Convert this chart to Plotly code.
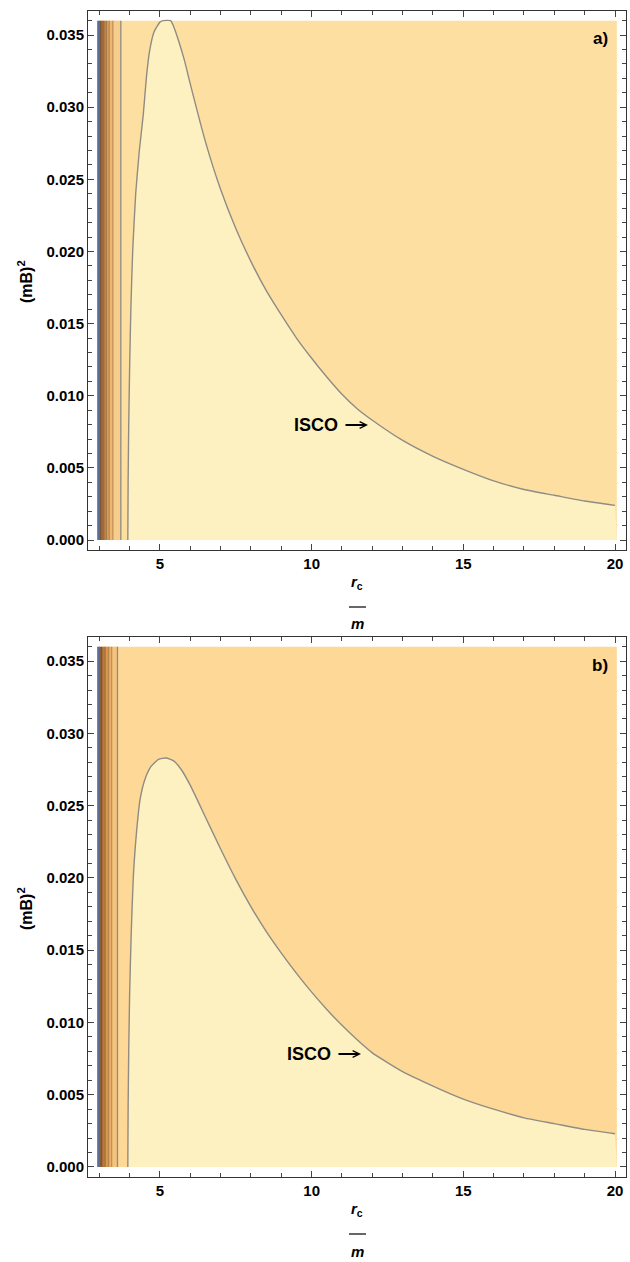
import plotly.graph_objects as go

# ---------------- data ----------------
# ISCO contour, panel a  (x = r_c/m, y = (mB)^2); clipped at top of plot
a_isco_x = [3.94, 3.95, 3.97, 4.00, 4.04, 4.10, 4.20, 4.32, 4.45, 4.55, 4.65, 4.80, 5.00, 5.10,
            5.35, 5.45, 5.60, 5.80, 6.00, 6.50, 7.00, 7.50, 8.00, 8.50, 9.00, 9.50, 10.00,
            10.50, 11.00, 11.50, 12.00, 13.00, 14.00, 15.00, 16.00, 17.00, 18.00, 19.00, 20.00]
a_isco_y = [0.0000, 0.0040, 0.0080, 0.0120, 0.0160, 0.0200, 0.0240, 0.0270, 0.0295, 0.0320,
            0.0338, 0.0352, 0.0359, 0.0360, 0.0360, 0.0356, 0.0347, 0.0333, 0.0316, 0.0276,
            0.0243, 0.0216, 0.0193, 0.0173, 0.0156, 0.0140, 0.0126, 0.0113, 0.0101, 0.0091,
            0.0083, 0.0069, 0.0058, 0.0049, 0.0041, 0.0035, 0.0031, 0.0027, 0.0024]
# ISCO contour, panel b
b_isco_x = [3.94, 3.95, 3.97, 4.00, 4.05, 4.12, 4.22, 4.35, 4.50, 4.70, 4.95, 5.20, 5.45,
            5.70, 6.00, 6.50, 7.00, 7.50, 8.00, 8.50, 9.00, 9.50, 10.00, 10.50, 11.00, 11.50,
            12.00, 13.00, 14.00, 15.00, 16.00, 17.00, 18.00, 19.00, 20.00]
b_isco_y = [0.0000, 0.0040, 0.0080, 0.0120, 0.0160, 0.0200, 0.0230, 0.0255, 0.0268, 0.0277,
            0.0282, 0.0283, 0.0281, 0.0275, 0.0264, 0.0242, 0.0220, 0.0199, 0.0180, 0.0163,
            0.0148, 0.0134, 0.0121, 0.0109, 0.0098, 0.0088, 0.0079, 0.0066, 0.0056, 0.0047,
            0.0040, 0.0034, 0.0030, 0.0026, 0.0023]

# vertical contour bands close to r_c = 3m
a_band_edges = [2.93, 3.00, 3.07, 3.15, 3.24, 3.33, 3.45, 3.71]
a_band_colors = ["#5873a8", "#7d5a3c", "#a0693a", "#c08447", "#d99f5c", "#ebb773", "#f7cd8c"]
b_band_edges = [2.93, 3.00, 3.09, 3.20, 3.31, 3.41, 3.60]
b_band_colors = ["#5873a8", "#8a5d36", "#b67a40", "#d49850", "#e8b068", "#f4c47e"]

a_outer, a_inner = "#fde0a1", "#fef1c1"
b_outer, b_inner = "#fdd897", "#fef1c1"

x_data = [2.93, 20.06]
y_data = [0.0, 0.036]

y_ticks = [0.000, 0.005, 0.010, 0.015, 0.020, 0.025, 0.030, 0.035]
x_ticks = [5, 10, 15, 20]

W, H = 630, 1262
FONT = "Liberation Sans, Arial, sans-serif"

fig = go.Figure()


def add_panel(xa, ya, isco_x, isco_y, edges, colors, outer, inner):
    x0, x1 = x_data
    y0, y1 = y_data
    fig.add_trace(go.Scatter(x=[x0, x1, x1, x0, x0], y=[y0, y0, y1, y1, y0], fill="toself",
                             fillcolor=outer, line=dict(width=0), mode="lines",
                             xaxis=xa, yaxis=ya, hoverinfo="skip", showlegend=False))
    px = list(isco_x) + [x1, isco_x[0]]
    py = list(isco_y) + [y0, y0]
    fig.add_trace(go.Scatter(x=px, y=py, fill="toself", fillcolor=inner, line=dict(width=0),
                             mode="lines", xaxis=xa, yaxis=ya, hoverinfo="skip", showlegend=False))
    for i, c in enumerate(colors):
        e0, e1 = edges[i], edges[i + 1]
        fig.add_trace(go.Scatter(x=[e0, e1, e1, e0, e0], y=[y0, y0, y1, y1, y0], fill="toself",
                                 fillcolor=c, line=dict(width=0), mode="lines",
                                 xaxis=xa, yaxis=ya, hoverinfo="skip", showlegend=False))
    for e in edges[1:-1]:
        fig.add_trace(go.Scatter(x=[e, e], y=[y0, y1], mode="lines",
                                 line=dict(color="rgba(110,70,40,0.6)", width=0.8),
                                 xaxis=xa, yaxis=ya, hoverinfo="skip", showlegend=False))
    fig.add_trace(go.Scatter(x=[edges[-1], edges[-1]], y=[y0, y1], mode="lines",
                             line=dict(color="#8f8c84", width=1.3),
                             xaxis=xa, yaxis=ya, hoverinfo="skip", showlegend=False))
    fig.add_trace(go.Scatter(x=isco_x, y=isco_y, mode="lines",
                             line=dict(color="#8f8c84", width=1.4, shape="spline", smoothing=0.5),
                             xaxis=xa, yaxis=ya, hoverinfo="skip", showlegend=False))


add_panel("x", "y", a_isco_x, a_isco_y, a_band_edges, a_band_colors, a_outer, a_inner)
add_panel("x2", "y2", b_isco_x, b_isco_y, b_band_edges, b_band_colors, b_outer, b_inner)

xrange = [2.6274, 20.3627]
yrange = [-0.000693, 0.03667]
tickfont = dict(family=FONT, size=15, color="black", weight="bold")

xcommon = dict(range=xrange, tickvals=x_ticks, ticks="inside", ticklen=6, tickwidth=1,
               tickcolor="#444", showline=True, linecolor="#333", linewidth=1, mirror="allticks",
               showgrid=False, zeroline=False, tickfont=tickfont,
               minor=dict(ticks="inside", dtick=1, tick0=0, ticklen=4, tickcolor="#444", showgrid=False))
ycommon = dict(range=yrange, tickvals=y_ticks, tickformat=".3f", ticks="inside", ticklen=6,
               tickwidth=1, tickcolor="#444", showline=True, linecolor="#333", linewidth=1,
               mirror="allticks", showgrid=False, zeroline=False, tickfont=tickfont,
               minor=dict(ticks="inside", dtick=0.001, tick0=0, ticklen=4, tickcolor="#444",
                          showgrid=False))

xdom = [88 / W, 626 / W]
fig.update_layout(
    width=W, height=H, margin=dict(l=0, r=0, t=0, b=0),
    paper_bgcolor="white", plot_bgcolor="white",
    xaxis=dict(domain=xdom, anchor="y", **xcommon),
    yaxis=dict(domain=[1 - 550 / H, 1 - 11 / H], anchor="x", **ycommon),
    xaxis2=dict(domain=xdom, anchor="y2", **xcommon),
    yaxis2=dict(domain=[1 - 1177 / H, 1 - 637 / H], anchor="x2", **ycommon),
    showlegend=False,
)

ann = []
bold = dict(family=FONT, color="black", weight="bold")
for off, lab, text_x, tip_x, tip_y in [(0, "a)", 316, 368, 425), (627, "b)", 309, 361, 1054)]:
    ann.append(dict(text=lab, x=600 / W, y=1 - (38 + off) / H, xref="paper", yref="paper",
                    showarrow=False, font=dict(size=17, **bold), xanchor="center", yanchor="middle"))
    ann.append(dict(text="ISCO", x=tip_x / W, y=1 - tip_y / H, xref="paper", yref="paper",
                    showarrow=True, ax=text_x - tip_x, ay=0, arrowhead=5, arrowsize=0.75,
                    arrowwidth=1.8, arrowcolor="black", borderpad=7,
                    font=dict(size=18, **bold)))
    ann.append(dict(text="(mB)<sup>2</sup>", x=25 / W, y=1 - (282 + off) / H, xref="paper",
                    yref="paper", showarrow=False, textangle=-90,
                    font=dict(size=16, **bold), xanchor="center", yanchor="middle"))
    ann.append(dict(text="<i>r</i><sub>c</sub>", x=357 / W, y=1 - (582 + off) / H, xref="paper",
                    yref="paper", showarrow=False, font=dict(size=15, **bold),
                    xanchor="center", yanchor="middle"))
    ann.append(dict(text="<i>m</i>", x=357 / W, y=1 - (624 + off) / H, xref="paper",
                    yref="paper", showarrow=False, font=dict(size=15, **bold),
                    xanchor="center", yanchor="middle"))

fig.update_layout(annotations=ann)
shapes = []
for off in (0, 627):
    shapes.append(dict(type="line", xref="paper", yref="paper", x0=349 / W, x1=366 / W,
                       y0=1 - (607 + off) / H, y1=1 - (607 + off) / H,
                       line=dict(color="black", width=1.2)))
fig.update_layout(shapes=shapes)

fig.write_html("out.html")
